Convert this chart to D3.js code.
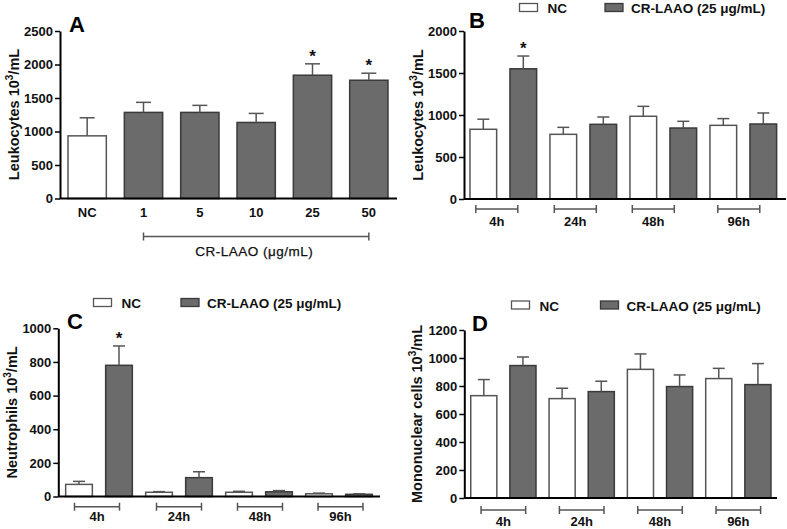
<!DOCTYPE html>
<html><head><meta charset="utf-8">
<script src="https://cdn.jsdelivr.net/npm/d3@7"></script>
<style>
html,body{margin:0;padding:0;background:#fff;}
svg{display:block;font-family:"Liberation Sans",Arial,Helvetica,sans-serif;}
</style></head>
<body>
<svg id="chart" width="787" height="529"></svg>
<script>
// ---- data ----
const doseCategories = ["NC", "1", "5", "10", "25", "50"];
const leukDoseMean = [935, 1285, 1285, 1135, 1840, 1765];
const leukDoseSem  = [270, 150, 105, 135, 170, 105];
const leukDoseSig  = [false, false, false, false, true, true];

const timePoints = ["4h", "24h", "48h", "96h"];
const groups = ["NC", "CR-LAAO (25 μg/mL)"];

const leukNCMean = [830, 770, 985, 877];
const leukNCSem  = [120, 83, 118, 80];
const leukCRMean = [1550, 889, 845, 893];
const leukCRSem  = [152, 87, 80, 131];
const leukCRSig  = [true, false, false, false];

const neutNCMean = [72, 25, 25, 16];
const neutNCSem  = [18, 4, 6, 4];
const neutCRMean = [780, 112, 28, 13];
const neutCRSem  = [115, 35, 7, 3];
const neutCRSig  = [true, false, false, false];

const monoNCMean = [731, 710, 919, 853];
const monoNCSem  = [115, 74, 110, 73];
const monoCRMean = [946, 760, 796, 810];
const monoCRSem  = [61, 74, 83, 150];

const ticksA = [0, 500, 1000, 1500, 2000, 2500];
const ticksB = [0, 500, 1000, 1500, 2000];
const ticksC = [0, 200, 400, 600, 800, 1000];
const ticksD = [0, 200, 400, 600, 800, 1000, 1200];

// ---- styles ----
const GRAY = "#6b6b6b", GRAY_STROKE = "#3a3a3a", WHITE_STROKE = "#555", ERR = "#555";
const TXT = "#111";
const svg = d3.select("#chart");

function yAxisLabel(g, x, yc, main) {
  const t = g.append("text")
    .attr("transform", `translate(${x},${yc}) rotate(-90)`)
    .attr("text-anchor", "middle")
    .attr("font-size", 14.5).attr("font-weight", "bold").attr("fill", TXT);
  t.append("tspan").text(main + " 10");
  t.append("tspan").text("3").attr("font-size", 10).attr("dy", -6);
  t.append("tspan").text("/mL").attr("dy", 6);
}

function drawYAxis(y, xAxis, ticks) {
  const ax = svg.append("g").attr("transform", `translate(${xAxis},0)`)
    .call(d3.axisLeft(y).tickValues(ticks).tickSize(5).tickSizeOuter(0).tickPadding(2).tickFormat(d3.format("d")));
  ax.select(".domain").attr("stroke", "#000").attr("stroke-width", 2);
  ax.selectAll(".tick line").attr("stroke", "#000").attr("stroke-width", 1.5);
  ax.selectAll(".tick text").attr("font-size", 13).attr("font-weight", "bold")
    .attr("fill", TXT).attr("font-family", '"Liberation Sans",Arial,sans-serif');
  return ax;
}

function bar(g, x, w, y0, yv, fill) {
  g.append("rect").attr("x", x).attr("y", yv).attr("width", w).attr("height", y0 - yv)
    .attr("fill", fill === "gray" ? GRAY : "#fff")
    .attr("stroke", fill === "gray" ? GRAY_STROKE : WHITE_STROKE)
    .attr("stroke-width", 1.5);
}

function errBar(g, cx, yv, ye, capW) {
  g.append("line").attr("x1", cx).attr("x2", cx).attr("y1", yv).attr("y2", ye)
    .attr("stroke", ERR).attr("stroke-width", 1.5);
  g.append("line").attr("x1", cx - capW / 2).attr("x2", cx + capW / 2).attr("y1", ye).attr("y2", ye)
    .attr("stroke", ERR).attr("stroke-width", 1.5);
}

function star(g, cx, ye) {
  g.append("text").attr("x", cx).attr("y", ye - 2).attr("text-anchor", "middle")
    .attr("font-size", 17).attr("font-weight", "bold").attr("fill", TXT).text("*");
}

function bracket(g, x1, x2, yb, color) {
  g.append("line").attr("x1", x1).attr("x2", x2).attr("y1", yb).attr("y2", yb)
    .attr("stroke", color).attr("stroke-width", 1.5);
  [x1, x2].forEach(x => g.append("line").attr("x1", x).attr("x2", x)
    .attr("y1", yb - 4).attr("y2", yb + 4).attr("stroke", color).attr("stroke-width", 1.5));
}

function panelTitle(x, y, s) {
  svg.append("text").attr("x", x).attr("y", y).attr("font-size", 22)
    .attr("font-weight", "bold").attr("fill", "#000").text(s);
}

function legend(x, y, gap) {
  const g = svg.append("g");
  g.append("rect").attr("x", x).attr("y", y).attr("width", 18).attr("height", 8)
    .attr("fill", "#fff").attr("stroke", WHITE_STROKE).attr("stroke-width", 1.3);
  g.append("text").attr("x", x + 28).attr("y", y + 9.5).attr("font-size", 13.5)
    .attr("font-weight", "bold").attr("fill", TXT).text(groups[0]);
  g.append("rect").attr("x", x + gap).attr("y", y).attr("width", 18).attr("height", 8)
    .attr("fill", GRAY).attr("stroke", GRAY_STROKE).attr("stroke-width", 1.3);
  g.append("text").attr("x", x + gap + 26).attr("y", y + 9.5).attr("font-size", 13.5)
    .attr("font-weight", "bold").attr("fill", TXT).text(groups[1]);
}

// ---------- Panel A ----------
(function () {
  const xAxis = 60, xEnd = 397, y0 = 198.5, yTop = 31;
  const y = d3.scaleLinear().domain([0, 2500]).range([y0, yTop]);
  const x = d3.scaleBand().domain(doseCategories).range([59, 397]).paddingInner(0.32).paddingOuter(0.16);
  const g = svg.append("g");
  doseCategories.forEach((c, i) => {
    bar(g, x(c), x.bandwidth(), y0, y(leukDoseMean[i]), i === 0 ? "white" : "gray");
    const cx = x(c) + x.bandwidth() / 2;
    const ye = y(leukDoseMean[i] + leukDoseSem[i]);
    errBar(g, cx, y(leukDoseMean[i]), ye, 15);
    if (leukDoseSig[i]) star(g, cx, ye);
    g.append("text").attr("x", cx).attr("y", 217).attr("text-anchor", "middle")
      .attr("font-size", 13).attr("font-weight", "bold").attr("fill", TXT).text(c);
  });
  svg.append("line").attr("x1", xAxis).attr("x2", xEnd).attr("y1", y0).attr("y2", y0)
    .attr("stroke", "#000").attr("stroke-width", 2);
  drawYAxis(y, xAxis, ticksA);
  const cx1 = x("1") + x.bandwidth() / 2, cx2 = x("50") + x.bandwidth() / 2;
  bracket(g, cx1, cx2, 236.5, "#555");
  g.append("text").attr("x", (cx1 + cx2) / 2 - 2).attr("y", 255.5).attr("text-anchor", "middle")
    .attr("font-size", 13.5).attr("letter-spacing", 0.5).attr("fill", TXT)
    .attr("stroke", TXT).attr("stroke-width", 0.25).text("CR-LAAO (μg/mL)");
  yAxisLabel(svg, 18.5, 114.5, "Leukocytes");
  panelTitle(69, 32, "A");
})();

// ---------- grouped panels ----------
function groupedPanel(opt) {
  const y = d3.scaleLinear().domain([0, opt.max]).range([opt.y0, opt.yTop]);
  const x0 = d3.scaleBand().domain(timePoints).range(opt.range);
  const x1 = d3.scaleBand().domain(groups).range([0, x0.bandwidth()]).paddingInner(0.333).paddingOuter(0.1667);
  const g = svg.append("g");
  timePoints.forEach((t, i) => {
    const series = [
      { k: groups[0], m: opt.ncMean[i], s: opt.ncSem[i], fill: "white", sig: false },
      { k: groups[1], m: opt.crMean[i], s: opt.crSem[i], fill: "gray", sig: opt.crSig ? opt.crSig[i] : false }
    ];
    series.forEach(d => {
      const bx = x0(t) + x1(d.k);
      bar(g, bx, x1.bandwidth(), opt.y0, y(d.m), d.fill);
      const cx = bx + x1.bandwidth() / 2;
      const ye = y(d.m + d.s);
      errBar(g, cx, y(d.m), ye, 12);
      if (d.sig) star(g, cx, ye);
    });
    const gc = x0(t) + x0.bandwidth() / 2 + opt.bShift[i];
    bracket(g, gc - opt.bHalf, gc + opt.bHalf, opt.bY, "#555");
    g.append("text").attr("x", gc).attr("y", opt.lY).attr("text-anchor", "middle")
      .attr("font-size", 13).attr("font-weight", "bold").attr("fill", TXT).text(t);
  });
  svg.append("line").attr("x1", opt.xAxis).attr("x2", opt.xEnd).attr("y1", opt.y0).attr("y2", opt.y0)
    .attr("stroke", "#000").attr("stroke-width", 2);
  drawYAxis(y, opt.xAxis, opt.ticks);
  yAxisLabel(svg, opt.labX, (opt.y0 + opt.yTop) / 2, opt.label);
}

// Panel B
groupedPanel({ max: 2000, y0: 199, yTop: 31, range: [463.3, 783.3], xAxis: 464, xEnd: 786,
  ncMean: leukNCMean, ncSem: leukNCSem, crMean: leukCRMean, crSem: leukCRSem, crSig: leukCRSig,
  ticks: ticksB, bShift: [-6.5, -8, -10, -4.5], bHalf: 21, bY: 209, lY: 225.5, labX: 423, label: "Leukocytes" });
legend(519.5, 3.5, 85.5);
panelTitle(469, 27.5, "B");

// Panel C
groupedPanel({ max: 1000, y0: 496.5, yTop: 328.3, range: [59, 379], xAxis: 58.3, xEnd: 380,
  ncMean: neutNCMean, ncSem: neutNCSem, crMean: neutCRMean, crSem: neutCRSem, crSig: neutCRSig,
  ticks: ticksC, bShift: [-2, 0, 1, 1.5], bHalf: 22.5, bY: 506.7, lY: 521, labX: 17, label: "Neutrophils" });
legend(93.5, 298.5, 87.5);
panelTitle(67, 328.5, "C");

// Panel D
groupedPanel({ max: 1200, y0: 498, yTop: 330, range: [464.2, 777.5], xAxis: 464.3, xEnd: 777,
  ncMean: monoNCMean, ncSem: monoNCSem, crMean: monoCRMean, crSem: monoCRSem, crSig: null,
  ticks: ticksD, bShift: [0, 0, 0, 0], bHalf: 22.3, bY: 510, lY: 526, labX: 422, label: "Mononuclear cells" });
legend(511.5, 301, 89);
panelTitle(472, 331, "D");
</script>
</body></html>
